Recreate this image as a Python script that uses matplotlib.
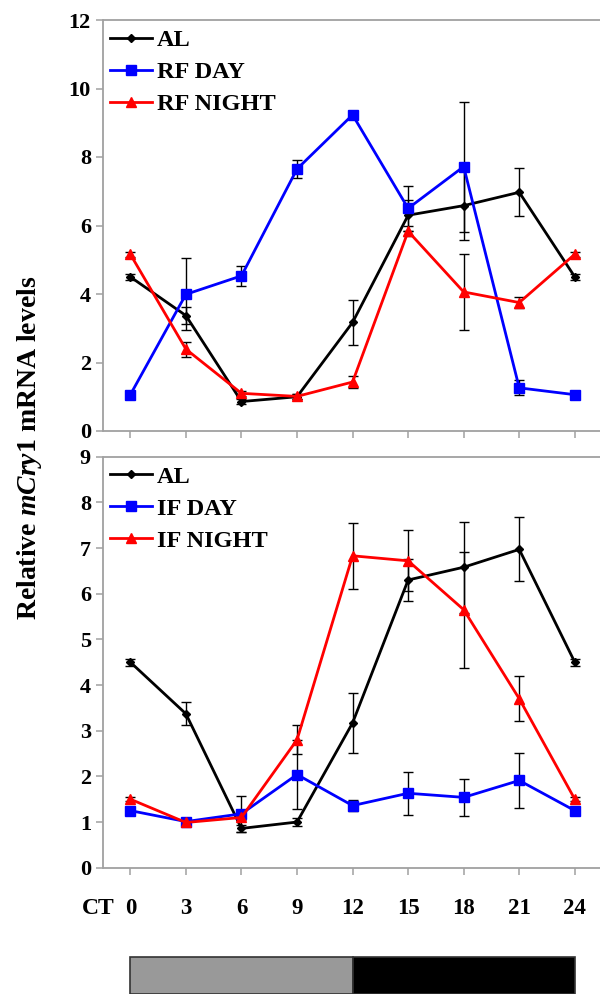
import matplotlib
matplotlib.use('agg')
import matplotlib.pyplot as plt
from matplotlib.patches import Rectangle

plt.rcParams['font.family'] = ['Liberation Serif', 'DejaVu Serif']
plt.rcParams['font.weight'] = 'bold'
plt.rcParams['mathtext.fontset'] = 'custom'
plt.rcParams['mathtext.it'] = 'Liberation Serif:bold:italic'
plt.rcParams['mathtext.rm'] = 'Liberation Serif:bold'

# circadian time points
ct = [0, 3, 6, 9, 12, 15, 18, 21, 24]
ct_labels = ['0', '3', '6', '9', '12', '15', '18', '21', '24']

# ad libitum (same in both panels)
al = [4.5, 3.37, 0.86, 1.0, 3.17, 6.3, 6.58, 6.97, 4.5]
al_err = [0.08, 0.25, 0.08, 0.08, 0.65, 0.45, 1.0, 0.7, 0.08]

# restricted feeding
rf_day = [1.06, 3.99, 4.53, 7.65, 9.23, 6.5, 7.72, 1.26, 1.06]
rf_day_err = [0.08, 1.05, 0.3, 0.25, 0.1, 0.65, 1.9, 0.22, 0.08]
rf_night = [5.16, 2.39, 1.1, 1.01, 1.43, 5.83, 4.06, 3.75, 5.16]
rf_night_err = [0.08, 0.22, 0.08, 0.08, 0.17, 0.15, 1.1, 0.17, 0.08]

# intermittent feeding
if_day = [1.25, 1.01, 1.18, 2.04, 1.36, 1.63, 1.54, 1.91, 1.25]
if_day_err = [0.06, 0.05, 0.4, 0.76, 0.12, 0.47, 0.4, 0.61, 0.06]
if_night = [1.5, 0.99, 1.1, 2.8, 6.83, 6.72, 5.65, 3.7, 1.5]
if_night_err = [0.05, 0.05, 0.05, 0.32, 0.72, 0.67, 1.27, 0.49, 0.05]

# light / dark bar under the axis
phase_start = [0, 12]
phase_end = [12, 24]
phase_color = ['#999999', 'black']

W, H = 600, 994
fig = plt.figure(figsize=(W / 100, H / 100), dpi=100)

left = 103.5 / W
width = 500 / W
ax1 = fig.add_axes([left, (H - 431) / H, width, 411 / H])
ax2 = fig.add_axes([left, (H - 867.7) / H, width, 411 / H])

spine_col = '#a0a0a0'


def draw_series(ax, y, err, color, marker, ms, label):
    ax.errorbar(ct, y, yerr=err, fmt='none', ecolor='black', elinewidth=1.0,
                capsize=3.6, capthick=1.0, zorder=2)
    ax.plot(ct, y, color=color, lw=2.0, marker=marker, ms=ms, mfc=color,
            mec=color, label=label, zorder=3)


def style(ax, ymax, yticks):
    ax.set_xlim(-1.45, 25.55)
    ax.set_ylim(0, ymax)
    ax.set_yticks(yticks)
    ax.set_xticks(ct)
    for s in ['left', 'bottom', 'top', 'right']:
        ax.spines[s].set_color(spine_col)
        ax.spines[s].set_linewidth(1.3)
    ax.tick_params(axis='both', colors=spine_col, length=5, width=1.1,
                   labelcolor='black')
    ax.tick_params(axis='y', pad=4, labelsize=16)
    ax.tick_params(axis='x', pad=17, labelsize=16.5)
    leg = ax.legend(loc='upper left', bbox_to_anchor=(0.013, 0.978),
                    frameon=False, fontsize=17.5, handlelength=1.72,
                    handletextpad=0.2, labelspacing=0.41, borderpad=0,
                    borderaxespad=0)
    for t in leg.get_texts():
        t.set_fontweight('bold')


draw_series(ax1, al, al_err, 'black', 'D', 4.5, 'AL')
draw_series(ax1, rf_day, rf_day_err, '#0000ff', 's', 7, 'RF DAY')
draw_series(ax1, rf_night, rf_night_err, '#ff0000', '^', 7.5, 'RF NIGHT')
style(ax1, 12, list(range(0, 13, 2)))
ax1.set_xticklabels([])

draw_series(ax2, al, al_err, 'black', 'D', 4.5, 'AL')
draw_series(ax2, if_day, if_day_err, '#0000ff', 's', 7, 'IF DAY')
draw_series(ax2, if_night, if_night_err, '#ff0000', '^', 7.5, 'IF NIGHT')
style(ax2, 9, list(range(0, 10)))
ax2.set_xticklabels(ct_labels)

fig.text(98 / W, 1 - 909 / H, 'CT', fontsize=17, fontweight='bold',
         ha='center', va='center')

fig.text(30 / W, 1 - 448 / H, r'Relative $\mathit{mCry1}$ mRNA levels',
         rotation=90, fontsize=20, fontweight='bold', ha='center', va='center')

# light/dark bar aligned with the x axis
axb = fig.add_axes([left, 0, width, (H - 963) / H])
axb.set_xlim(ax2.get_xlim())
axb.set_ylim(0, 1)
axb.axis('off')
for x0, x1, c in zip(phase_start, phase_end, phase_color):
    axb.add_patch(Rectangle((x0, 0), x1 - x0, 1.2, facecolor=c,
                            edgecolor='#333333', lw=1.2, clip_on=False))

fig.savefig('out.png', dpi=100)
